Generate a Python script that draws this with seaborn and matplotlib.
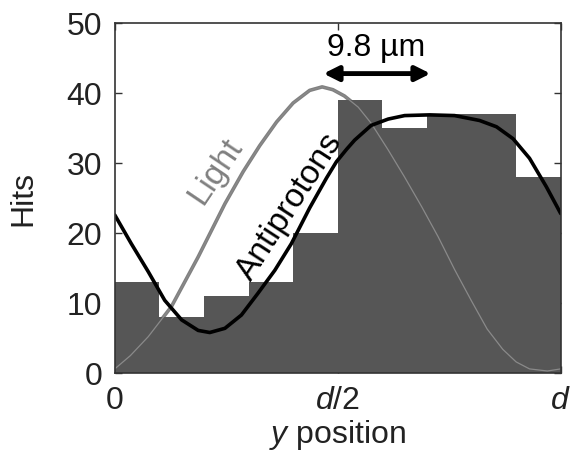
import numpy as np
import matplotlib
matplotlib.use("Agg")
import matplotlib.pyplot as plt
import seaborn as sns

# ---- data ----
bin_edges = [0.0, 0.1, 0.2, 0.3, 0.4, 0.5, 0.6, 0.7, 0.8, 0.9, 1.0]
hits = [13, 8, 11, 13, 20, 39, 35, 37, 37, 28]

light_x = [0.0, 0.035, 0.075, 0.127, 0.187, 0.247, 0.288, 0.325, 0.363, 0.40,
           0.437, 0.465, 0.489, 0.515, 0.546, 0.575, 0.613, 0.650, 0.688, 0.725,
           0.762, 0.800, 0.835, 0.87, 0.90, 0.93, 0.97, 1.0]
light_y = [0.6, 2.5, 5.2, 9.5, 16.6, 24.2, 28.8, 32.5, 35.9, 38.6,
           40.4, 40.9, 40.5, 39.6, 38.0, 35.7, 31.9, 28.0, 23.8, 19.5,
           14.8, 10.3, 6.3, 3.4, 1.6, 0.6, 0.3, 0.6]

pbar_x = [0.0, 0.037, 0.075, 0.112, 0.150, 0.187, 0.213, 0.247, 0.284, 0.321,
          0.359, 0.396, 0.437, 0.475, 0.497, 0.52, 0.538, 0.575, 0.613, 0.65,
          0.706, 0.762, 0.818, 0.856, 0.893, 0.93, 0.968, 1.0]
pbar_y = [22.6, 18.5, 14.5, 10.4, 7.6, 6.1, 5.8, 6.4, 8.3, 11.4,
          14.7, 18.5, 23.6, 27.9, 30.2, 32.0, 33.3, 35.4, 36.3, 36.8,
          36.9, 36.8, 36.1, 35.2, 33.5, 30.7, 26.6, 22.8]

xtick_pos = [0, 0.5, 1]
xtick_lab = ["0", r"$\it{d}$/2", r"$\it{d}$"]
ytick_pos = [0, 10, 20, 30, 40, 50]

# ---- plot ----
sns.set_style("ticks")
plt.rcParams["font.family"] = ["Liberation Sans", "DejaVu Sans"]
plt.rcParams["mathtext.fontset"] = "custom"
plt.rcParams["mathtext.it"] = "Liberation Sans:italic"
plt.rcParams["mathtext.rm"] = "Liberation Sans"

fig = plt.figure(figsize=(5.71, 4.55), dpi=100)
ax = fig.add_axes([0.201, 0.180, 0.781, 0.769])

centers = [(a + b) / 2 for a, b in zip(bin_edges[:-1], bin_edges[1:])]

# light curve (thick, behind the bars)
sns.lineplot(x=light_x, y=light_y, ax=ax, color="#808080", linewidth=2.6,
             estimator=None, sort=False, zorder=1)
sns.histplot(x=centers, weights=hits, bins=bin_edges, ax=ax, color="#565656",
             alpha=1, linewidth=0, edgecolor="none", zorder=2)
# faint continuation seen over the bars
sns.lineplot(x=light_x, y=light_y, ax=ax, color="#8a8a8a", linewidth=0.9,
             estimator=None, sort=False, zorder=3)
sns.lineplot(x=pbar_x, y=pbar_y, ax=ax, color="black", linewidth=2.6,
             estimator=None, sort=False, zorder=4)

ax.set_xlim(0, 1)
ax.set_ylim(0, 50)
ax.set_xticks(xtick_pos)
ax.set_xticklabels(xtick_lab)
ax.set_yticks(ytick_pos)
ax.tick_params(direction="in", length=5, width=1, top=True, right=True,
               labelsize=23, colors="#333333", labelcolor="#222222")
ax.tick_params(axis="x", pad=9)
ax.tick_params(axis="y", pad=9)
for s in ax.spines.values():
    s.set_visible(True)
    s.set_linewidth(1.2)
    s.set_color("#333333")
    s.set_zorder(6)

ax.set_ylabel("Hits", fontsize=23, labelpad=20, color="#222222")
ax.set_xlabel(r"$\it{y}$ position", fontsize=23, labelpad=2, color="#222222")

ax.text(0.226, 28.8, "Light", rotation=56, fontsize=24, color="#808080",
        ha="center", va="center", zorder=5)
ax.text(0.392, 23.8, "Antiprotons", rotation=57, fontsize=24, color="black",
        ha="center", va="center", zorder=5)

ax.annotate("", xy=(0.468, 42.8), xytext=(0.708, 42.8),
            arrowprops=dict(arrowstyle="<|-|>", lw=3.5, color="black",
                            mutation_scale=22, shrinkA=0, shrinkB=0), zorder=5)
ax.text(0.585, 46.5, "9.8 µm", fontsize=23, ha="center", va="center",
        color="black", zorder=5)

fig.savefig("out.png", dpi=100)
